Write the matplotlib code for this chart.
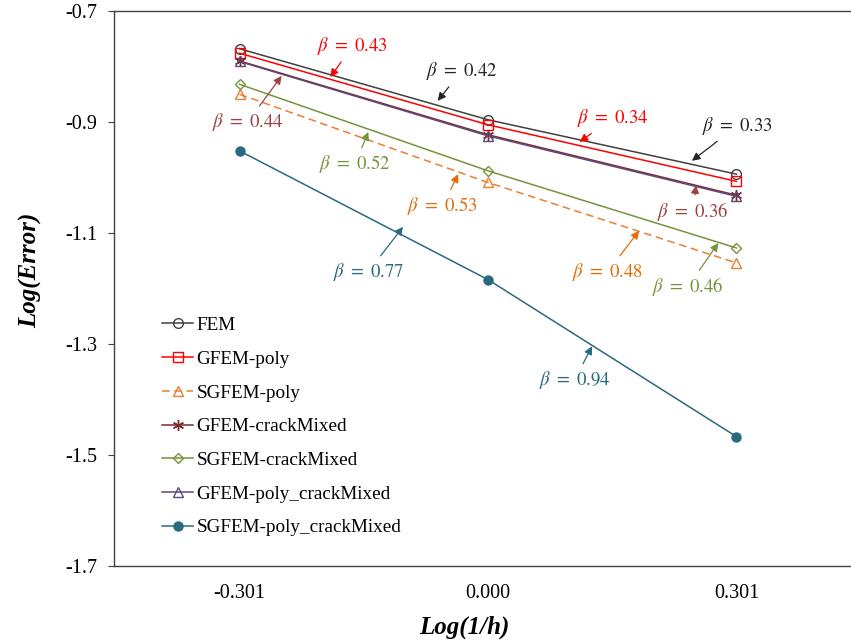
import matplotlib
matplotlib.use("Agg")
import matplotlib.pyplot as plt

plt.rcParams['font.family'] = ['Liberation Serif', 'DejaVu Serif']
plt.rcParams['mathtext.fontset'] = 'stix'

# data
log_inv_h = [-0.301, 0.000, 0.301]
fem = [-0.768, -0.896, -0.994]
gfem_poly = [-0.776, -0.905, -1.007]
sgfem_poly = [-0.850, -1.009, -1.154]
gfem_crack = [-0.790, -0.923, -1.032]
sgfem_crack = [-0.832, -0.988, -1.127]
gfem_poly_crack = [-0.791, -0.925, -1.034]
sgfem_poly_crack = [-0.952, -1.184, -1.467]

series = [
    ("FEM", fem, '#404040', '-', 'o', 'none'),
    ("GFEM-poly", gfem_poly, '#ff0000', '-', 's', 'none'),
    ("SGFEM-poly", sgfem_poly, '#ed7d31', (0, (5, 3)), '^', 'none'),
    ("GFEM-crackMixed", gfem_crack, '#7b2a2a', '-', (6, 2, 0), None),
    ("SGFEM-crackMixed", sgfem_crack, '#77933c', '-', 'D', 'none'),
    ("GFEM-poly_crackMixed", gfem_poly_crack, '#5f497a', '-', '^', 'none'),
    ("SGFEM-poly_crackMixed", sgfem_poly_crack, '#2a6a80', '-', 'o', 'full'),
]

# slope labels: text, colour, text position, arrow tip
notes = [
    ("0.43", '#ff0000', (-0.164, -0.763), (-0.191, -0.819)),
    ("0.42", '#262626', (-0.032, -0.808), (-0.061, -0.862)),
    ("0.44", '#9c4343', (-0.291, -0.900), (-0.250, -0.817)),
    ("0.52", '#77933c', (-0.161, -0.976), (-0.145, -0.918)),
    ("0.53", '#e46c0a', (-0.055, -1.051), (-0.036, -0.994)),
    ("0.34", '#ff0000', (0.151, -0.893), (0.111, -0.936)),
    ("0.33", '#262626', (0.302, -0.907), (0.247, -0.970)),
    ("0.36", '#9c4343', (0.248, -1.062), (0.252, -1.014)),
    ("0.48", '#e46c0a', (0.145, -1.170), (0.183, -1.096)),
    ("0.46", '#77933c', (0.242, -1.197), (0.279, -1.118)),
    ("0.77", '#2a6a80', (-0.145, -1.170), (-0.103, -1.089)),
    ("0.94", '#2a6a80', (0.105, -1.365), (0.126, -1.304)),
]

fig = plt.figure(figsize=(8.51, 6.43), dpi=100)
ax = fig.add_axes([0.134, 0.1198, 0.866, 0.8631])

for name, vals, col, ls, mk, fill in series:
    if fill == 'full':
        ax.plot(log_inv_h, vals, color=col, ls=ls, lw=1.1, marker=mk, ms=6.5,
                markerfacecolor=col, markeredgecolor=col, label=name)
    elif fill is None:
        ax.plot(log_inv_h, vals, color=col, ls=ls, lw=1.1, marker=mk, ms=8,
                markeredgecolor=col, markeredgewidth=1.0, label=name)
    else:
        ax.plot(log_inv_h, vals, color=col, ls=ls, lw=1.1, marker=mk,
                ms=7 if mk != 'D' else 5.5, markerfacecolor='none',
                markeredgecolor=col, markeredgewidth=1.0, label=name)

for txt, col, xytext, xy in notes:
    ax.annotate(r"$\beta\ =\ $" + rf"${txt}$", xy=xy, xytext=xytext, color=col,
                fontsize=13.5, ha='center', va='center',
                arrowprops=dict(arrowstyle='-|>', color=col, lw=0.9,
                                mutation_scale=12, shrinkA=2, shrinkB=0))

ax.set_xlim(-0.453, 0.4397)
ax.set_ylim(-1.7, -0.7)
ax.set_xticks(log_inv_h)
ax.set_xticklabels(["-0.301", "0.000", "0.301"])
ax.set_yticks([-0.7, -0.9, -1.1, -1.3, -1.5, -1.7])
ax.set_yticklabels(["-0.7", "-0.9", "-1.1", "-1.3", "-1.5", "-1.7"])
ax.tick_params(axis='x', length=0, pad=13, labelsize=14.5)
ax.tick_params(axis='y', length=4, direction='out', pad=8, labelsize=14.5, color='#404040')
ax.spines['right'].set_visible(False)
for s in ['left', 'top', 'bottom']:
    ax.spines[s].set_color('#404040')
    ax.spines[s].set_linewidth(1.0)

ax.set_xlabel("Log(1/h)", fontsize=18, fontweight='bold', fontstyle='italic')
ax.set_ylabel("Log(Error)", fontsize=18, fontweight='bold', fontstyle='italic')
ax.xaxis.set_label_coords(0.475, -0.09)
ax.yaxis.set_label_coords(-0.097, 0.532)

ax.legend(loc='upper left', bbox_to_anchor=(0.055, 0.463), frameon=False,
          fontsize=13.8, handlelength=1.6, handletextpad=0.2, labelspacing=0.85,
          borderaxespad=0)

fig.savefig("out.png", dpi=100)
